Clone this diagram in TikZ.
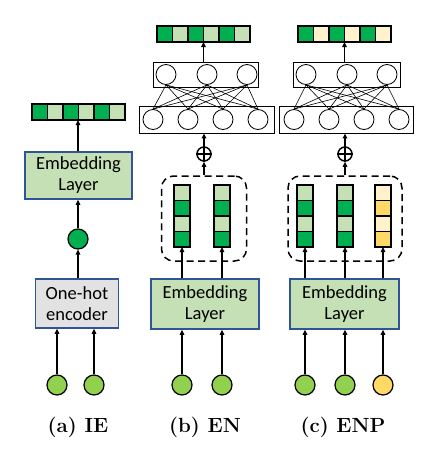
\documentclass[tikz,border=0pt]{standalone}
\usepackage{fontspec}
\newfontfamily\calibri{Carlito}
\usetikzlibrary{arrows.meta, positioning, calc}

\definecolor{dkgreen}{HTML}{00B050}
\definecolor{ltgreen}{HTML}{C5E0B4}
\definecolor{inpgreen}{HTML}{92D050}
\definecolor{dkyellow}{HTML}{FFD966}
\definecolor{ltyellow}{HTML}{FFF2CC}
\definecolor{boxblue}{HTML}{2F5597}
\definecolor{boxgrey}{HTML}{E2E2E2}

\begin{document}
\begin{tikzpicture}[
		x=1pt, y=-1pt,
		>={Triangle[length=5pt, width=4.5pt]},
		% Block Styles
		emb_box/.style={rectangle, draw=boxblue, line width=1.6pt, fill=ltgreen, align=center, inner sep=0pt, font=\calibri\fontsize{18.5}{21}\selectfont},
		enc_box/.style={emb_box, fill=boxgrey},
		nn_box/.style={rectangle, draw=black, line width=0.8pt, inner sep=0pt},
		neuron/.style={circle, draw=black, line width=0.8pt, fill=white, minimum size=20pt, inner sep=0pt},
		group_box/.style={rectangle, rounded corners=12pt, draw=black, dash pattern=on 7pt off 4.5pt, line width=1.5pt, inner sep=0pt},
		% Cell Styles
		hcell/.style={rectangle, draw=black, line width=1.5pt, minimum width=15.5pt, minimum height=16pt, inner sep=0pt, outer sep=0pt},
		vcell/.style={rectangle, draw=black, line width=1.5pt, minimum width=16pt, minimum height=15.5pt, inner sep=0pt, outer sep=0pt},
		input_node/.style={circle, draw=black, line width=1.2pt, minimum size=20pt, inner sep=0pt},
		plus_node/.style={circle, draw=black, line width=1.5pt, minimum size=14pt, inner sep=0pt},
		caption/.style={font=\bfseries\fontsize{20.5}{24}\selectfont},
		% Edge Styles
		flow/.style={->, line width=1.5pt},
		synapse/.style={line width=0.6pt}
		]
		
		\useasboundingbox (0,0) rectangle (431,450);
		
		% --- (a) IE ---
		\foreach \c [count=\i from 0] in {dkgreen,ltgreen,dkgreen,ltgreen,dkgreen,ltgreen}
			\node[hcell, fill=\c] (outA\i) at (32+7.75+15.5*\i, 112) {};
		\node[emb_box, minimum width=107pt, minimum height=47pt] (embA) at (78.5,175.5) {Embedding\\Layer};
		\node[circle, draw=black, line width=1.2pt, fill=dkgreen, minimum size=20pt, inner sep=0pt] (hidA) at (78,239) {};
		\node[enc_box, minimum width=83pt, minimum height=49pt] (oneA) at (77,303.5) {One-hot\\encoder};
		\node[input_node, fill=inpgreen] (inA1) at (57,385) {};
		\node[input_node, fill=inpgreen] (inA2) at (94,385) {};
		
		\draw[flow] (inA1.north) -- (inA1.north |- oneA.south);
		\draw[flow] (inA2.north) -- (inA2.north |- oneA.south);
		\draw[flow] (oneA.north -| hidA.south) -- (hidA.south);
		\draw[flow] (hidA.north) -- (hidA.north |- embA.south);
		\draw[flow] (hidA.north |- embA.north) -- (hidA.north |- outA0.south);
		
		% --- (b) EN ---
		\foreach \c [count=\i from 0] in {dkgreen,ltgreen,dkgreen,ltgreen,dkgreen,ltgreen}
			\node[hcell, fill=\c] (outB\i) at (157+7.75+15.5*\i, 34) {};
		\node[nn_box, minimum width=105pt, minimum height=25pt] (topBoxB) at (205.5,74.5) {};
		\node[nn_box, minimum width=135pt, minimum height=27pt] (botBoxB) at (206.5,119.5) {};
		\foreach \xx [count=\i] in {166,207,247}
			\node[neuron] (topB\i) at (\xx,74.5) {};
		\foreach \xx [count=\j] in {153,188,223,258}
			\node[neuron] (botB\j) at (\xx,119.5) {};
		\foreach \i in {1,2,3}
			\foreach \j in {1,...,4}
				\draw[synapse] (topB\i.south) -- (botB\j.north);
		
		\node[plus_node] (plusB) at (204,154) {};
		\draw[line width=1.5pt] (plusB.north) -- (plusB.south) (plusB.west) -- (plusB.east);
		
		\node[group_box, minimum width=85pt, minimum height=85pt] (groupB) at (204,218.5) {};
		\foreach \col/\xx in {1/182, 2/222}
			\foreach \c [count=\r from 0] in {ltgreen,dkgreen,ltgreen,dkgreen}
				\node[vcell, fill=\c] (vecB\col\r) at (\xx, 192.75+15.5*\r) {};
		
		\node[emb_box, minimum width=108pt, minimum height=50pt] (embB) at (205,304) {Embedding\\Layer};
		\node[input_node, fill=inpgreen] (inB1) at (182,385) {};
		\node[input_node, fill=inpgreen] (inB2) at (222,385) {};
		
		\draw[flow] (inB1.north) -- (inB1.north |- embB.south);
		\draw[flow] (inB2.north) -- (inB2.north |- embB.south);
		\draw[flow] (embB.north -| vecB13.south) -- (vecB13.south);
		\draw[flow] (embB.north -| vecB23.south) -- (vecB23.south);
		\draw[flow] (groupB.north -| plusB.south) -- (plusB.south);
		\draw[flow] (plusB.north) -- (plusB.north |- botBoxB.south);
		\draw[flow] (outB2.south east |- topBoxB.north) -- (outB2.south east);
		
		% --- (c) ENP ---
		\foreach \c [count=\i from 0] in {dkgreen,ltyellow,dkgreen,ltyellow,dkgreen,ltyellow}
			\node[hcell, fill=\c] (outC\i) at (298+7.75+15.5*\i, 34) {};
		\node[nn_box, minimum width=107pt, minimum height=25pt] (topBoxC) at (346.5,74.5) {};
		\node[nn_box, minimum width=134pt, minimum height=27pt] (botBoxC) at (346,119.5) {};
		\foreach \xx [count=\i] in {306,347,387}
			\node[neuron] (topC\i) at (\xx,74.5) {};
		\foreach \xx [count=\j] in {294,329,364,399}
			\node[neuron] (botC\j) at (\xx,119.5) {};
		\foreach \i in {1,2,3}
			\foreach \j in {1,...,4}
				\draw[synapse] (topC\i.south) -- (botC\j.north);
		
		\node[plus_node] (plusC) at (345,154) {};
		\draw[line width=1.5pt] (plusC.north) -- (plusC.south) (plusC.west) -- (plusC.east);
		
		\node[group_box, minimum width=114pt, minimum height=85pt] (groupC) at (345,218.5) {};
		\foreach \col/\xx in {1/305, 2/345}
			\foreach \c [count=\r from 0] in {ltgreen,dkgreen,ltgreen,dkgreen}
				\node[vcell, fill=\c] (vecC\col\r) at (\xx, 192.75+15.5*\r) {};
		\foreach \c [count=\r from 0] in {ltyellow,dkyellow,ltyellow,dkyellow}
			\node[vcell, fill=\c] (vecC3\r) at (383, 192.75+15.5*\r) {};
		
		\node[emb_box, minimum width=109pt, minimum height=50pt] (embC) at (344.5,304) {Embedding\\Layer};
		\node[input_node, fill=inpgreen] (inC1) at (305,385) {};
		\node[input_node, fill=inpgreen] (inC2) at (345,385) {};
		\node[input_node, fill=dkyellow] (inC3) at (383,385) {};
		
		\foreach \k in {1,2,3} {
			\draw[flow] (inC\k.north) -- (inC\k.north |- embC.south);
			\draw[flow] (embC.north -| vecC\k3.south) -- (vecC\k3.south);
		}
		\draw[flow] (groupC.north -| plusC.south) -- (plusC.south);
		\draw[flow] (plusC.north) -- (plusC.north |- botBoxC.south);
		\draw[flow] (outC2.south east |- topBoxC.north) -- (outC2.south east);
		
		% --- Captions ---
		\node[caption] (capA) at (78,427) {(a) IE};
		\node[caption] (capB) at (205,427) {(b) EN};
		\node[caption] (capC) at (343,427) {(c) ENP};
		
	\end{tikzpicture}
\end{document}
